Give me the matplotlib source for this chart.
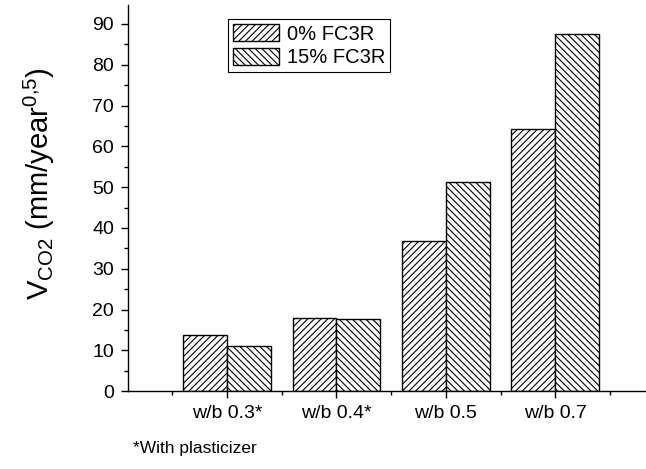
import numpy as np
import matplotlib
matplotlib.use('Agg')
import matplotlib.pyplot as plt
from matplotlib.ticker import MultipleLocator

# data
categories = ['w/b 0.3*', 'w/b 0.4*', 'w/b 0.5', 'w/b 0.7']
fc0 = [13.8, 17.9, 36.9, 64.2]
fc15 = [11.0, 17.6, 51.2, 87.6]
series_labels = ['0% FC3R', '15% FC3R']

plt.rcParams['font.family'] = ['Liberation Sans', 'DejaVu Sans']
plt.rcParams['mathtext.fontset'] = 'custom'
plt.rcParams['mathtext.rm'] = 'Liberation Sans'
plt.rcParams['mathtext.it'] = 'Liberation Sans'
plt.rcParams['hatch.linewidth'] = 0.8

fig = plt.figure(figsize=(6.46, 4.69), dpi=100)
ax = fig.add_axes([0.198, 0.166, 0.800, 0.823])

x = np.arange(1, len(categories) + 1)
w = 0.4
ax.bar(x - w / 2, fc0, w, facecolor='white', edgecolor='black',
       hatch='/////', linewidth=1.0, label=series_labels[0])
ax.bar(x + w / 2, fc15, w, facecolor='white', edgecolor='black',
       hatch='\\\\\\\\\\', linewidth=1.0, label=series_labels[1])

ax.set_xlim(0.096, 4.817)
ax.set_ylim(0, 94.6)
ax.set_xticks(x)
ax.set_xticklabels(categories)
ax.xaxis.set_minor_locator(MultipleLocator(0.5))
ax.yaxis.set_major_locator(MultipleLocator(10))
ax.yaxis.set_minor_locator(MultipleLocator(5))

for s in ['top', 'right']:
    ax.spines[s].set_visible(False)
for s in ['left', 'bottom']:
    ax.spines[s].set_linewidth(1.0)

ax.tick_params(which='major', direction='out', length=5, width=1.0,
               labelsize=14, pad=5)
ax.tick_params(which='minor', direction='out', length=3, width=1.0)

ax.set_ylabel(r'V$_{\mathrm{CO2}}$ (mm/year$^{\mathrm{0{,}5}}$)', fontsize=21)
ax.yaxis.set_label_coords(-0.137, 0.539)

leg = ax.legend(loc='upper left', bbox_to_anchor=(0.193, 0.963), fontsize=14.5,
                fancybox=False, edgecolor='black', framealpha=1,
                handlelength=2.3, handleheight=0.9, handletextpad=0.4,
                borderpad=0.25, labelspacing=0.2, borderaxespad=0)
leg.get_frame().set_linewidth(0.8)

fig.text(0.206, 0.035, '*With plasticizer', fontsize=12.5)

fig.savefig('out.png', dpi=100)
